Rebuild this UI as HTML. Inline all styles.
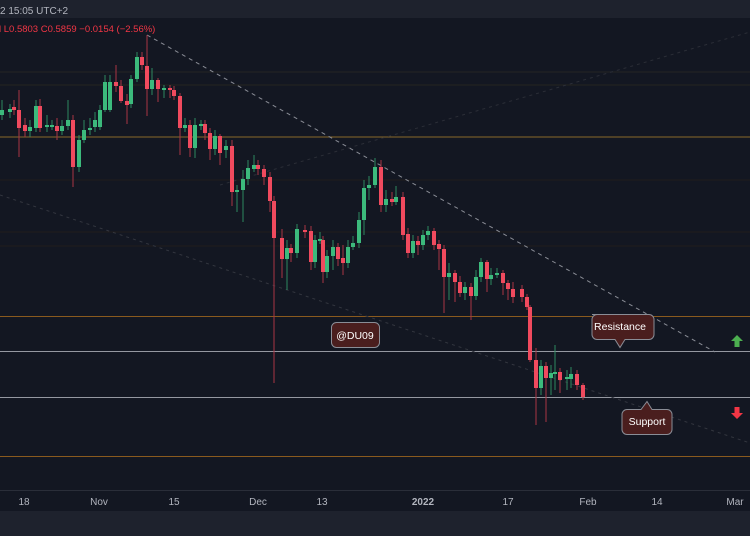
<!DOCTYPE html>
<html><head><meta charset="utf-8">
<style>
html,body{margin:0;padding:0;background:#131722;width:750px;height:536px;overflow:hidden;font-family:"Liberation Sans",sans-serif}
svg{display:block}
</style></head><body>
<svg width="750" height="536" xmlns="http://www.w3.org/2000/svg">
<rect width="750" height="536" fill="#131722"/>
<rect width="750" height="18" fill="#1e222d"/>
<text x="0" y="14" fill="#b2b5be" font-size="10">2 15:05 UTC+2</text>
<text x="-1" y="32" fill="#f23645" font-size="9.5">l  L0.5803  C0.5859  −0.0154 (−2.56%)</text>
<g stroke-width="1">
<line x1="0" y1="72" x2="750" y2="72" stroke="#262624"/>
<line x1="0" y1="85" x2="750" y2="85" stroke="#262420"/>
<line x1="0" y1="137" x2="750" y2="137" stroke="#8a6a2a"/>
<line x1="0" y1="180" x2="750" y2="180" stroke="#221e1c"/>
<line x1="0" y1="232" x2="750" y2="232" stroke="#221e1c"/>
<line x1="0" y1="246" x2="750" y2="246" stroke="#221e1c"/>
<line x1="0" y1="316.5" x2="750" y2="316.5" stroke="#8a5a1e"/>
<line x1="0" y1="351.5" x2="750" y2="351.5" stroke="#9598a1"/>
<line x1="0" y1="397.5" x2="750" y2="397.5" stroke="#9598a1"/>
<line x1="0" y1="456.5" x2="750" y2="456.5" stroke="#8a5a1e"/>
</g>
<line x1="147" y1="35" x2="715" y2="352" stroke="#8a8d96" stroke-dasharray="4,4"/>
<line x1="0" y1="195" x2="750" y2="443" stroke="#33363f" stroke-dasharray="3,4"/>
<line x1="220" y1="185" x2="750" y2="32" stroke="#2b2e37" stroke-dasharray="3,4"/>
<g stroke="#2e8a60" stroke-width="1">
<line x1="2" y1="100" x2="2" y2="120"/><line x1="10" y1="104" x2="10" y2="118"/><line x1="30" y1="120" x2="30" y2="137"/><line x1="36" y1="100" x2="36" y2="132"/><line x1="47" y1="115" x2="47" y2="132"/><line x1="52" y1="120" x2="52" y2="130"/><line x1="62" y1="120" x2="62" y2="135"/><line x1="68" y1="100" x2="68" y2="130"/><line x1="79" y1="135" x2="79" y2="172"/><line x1="84" y1="120" x2="84" y2="143"/><line x1="90" y1="118" x2="90" y2="135"/><line x1="95" y1="112" x2="95" y2="132"/><line x1="100" y1="105" x2="100" y2="130"/><line x1="105" y1="75" x2="105" y2="112"/><line x1="110" y1="75" x2="110" y2="112"/><line x1="131" y1="75" x2="131" y2="108"/><line x1="137" y1="52" x2="137" y2="82"/><line x1="152" y1="68" x2="152" y2="95"/><line x1="164" y1="85" x2="164" y2="98"/><line x1="185" y1="118" x2="185" y2="132"/><line x1="195" y1="118" x2="195" y2="158"/><line x1="201" y1="120" x2="201" y2="130"/><line x1="215" y1="130" x2="215" y2="155"/><line x1="226" y1="140" x2="226" y2="158"/><line x1="237" y1="185" x2="237" y2="212"/><line x1="243" y1="170" x2="243" y2="222"/><line x1="248" y1="160" x2="248" y2="185"/><line x1="254" y1="155" x2="254" y2="172"/><line x1="287" y1="240" x2="287" y2="290"/><line x1="297" y1="224" x2="297" y2="258"/><line x1="315" y1="235" x2="315" y2="268"/><line x1="320" y1="232" x2="320" y2="244"/><line x1="327" y1="250" x2="327" y2="278"/><line x1="333" y1="240" x2="333" y2="270"/><line x1="348" y1="240" x2="348" y2="268"/><line x1="353" y1="236" x2="353" y2="250"/><line x1="359" y1="212" x2="359" y2="248"/><line x1="364" y1="180" x2="364" y2="235"/><line x1="369" y1="176" x2="369" y2="200"/><line x1="375" y1="158" x2="375" y2="188"/><line x1="386" y1="190" x2="386" y2="212"/><line x1="396" y1="186" x2="396" y2="205"/><line x1="413" y1="235" x2="413" y2="258"/><line x1="423" y1="230" x2="423" y2="250"/><line x1="428" y1="226" x2="428" y2="240"/><line x1="449" y1="263" x2="449" y2="300"/><line x1="465" y1="282" x2="465" y2="300"/><line x1="476" y1="270" x2="476" y2="300"/><line x1="481" y1="258" x2="481" y2="282"/><line x1="491" y1="268" x2="491" y2="285"/><line x1="497" y1="268" x2="497" y2="278"/><line x1="541" y1="360" x2="541" y2="395"/><line x1="551" y1="365" x2="551" y2="395"/><line x1="555" y1="345" x2="555" y2="390"/><line x1="567" y1="370" x2="567" y2="390"/><line x1="571" y1="367" x2="571" y2="388"/>
</g>
<g stroke="#a83444" stroke-width="1">
<line x1="14" y1="100" x2="14" y2="115"/><line x1="19" y1="90" x2="19" y2="157"/><line x1="25" y1="118" x2="25" y2="137"/><line x1="40" y1="99" x2="40" y2="132"/><line x1="57" y1="118" x2="57" y2="140"/><line x1="73" y1="115" x2="73" y2="187"/><line x1="116" y1="65" x2="116" y2="92"/><line x1="121" y1="80" x2="121" y2="103"/><line x1="127" y1="94" x2="127" y2="124"/><line x1="142" y1="52" x2="142" y2="70"/><line x1="147" y1="35" x2="147" y2="116"/><line x1="158" y1="78" x2="158" y2="102"/><line x1="170" y1="85" x2="170" y2="98"/><line x1="174" y1="86" x2="174" y2="100"/><line x1="180" y1="93" x2="180" y2="155"/><line x1="190" y1="120" x2="190" y2="157"/><line x1="205" y1="120" x2="205" y2="140"/><line x1="210" y1="128" x2="210" y2="160"/><line x1="220" y1="134" x2="220" y2="165"/><line x1="232" y1="140" x2="232" y2="206"/><line x1="258" y1="160" x2="258" y2="175"/><line x1="264" y1="165" x2="264" y2="185"/><line x1="270" y1="172" x2="270" y2="212"/><line x1="274" y1="196" x2="274" y2="383"/><line x1="282" y1="229" x2="282" y2="278"/><line x1="291" y1="244" x2="291" y2="262"/><line x1="305" y1="225" x2="305" y2="238"/><line x1="311" y1="226" x2="311" y2="270"/><line x1="323" y1="236" x2="323" y2="283"/><line x1="338" y1="243" x2="338" y2="266"/><line x1="343" y1="245" x2="343" y2="275"/><line x1="381" y1="160" x2="381" y2="212"/><line x1="392" y1="192" x2="392" y2="206"/><line x1="403" y1="192" x2="403" y2="240"/><line x1="408" y1="228" x2="408" y2="258"/><line x1="418" y1="236" x2="418" y2="255"/><line x1="434" y1="228" x2="434" y2="250"/><line x1="439" y1="240" x2="439" y2="270"/><line x1="444" y1="245" x2="444" y2="313"/><line x1="455" y1="270" x2="455" y2="302"/><line x1="460" y1="276" x2="460" y2="297"/><line x1="471" y1="283" x2="471" y2="320"/><line x1="487" y1="260" x2="487" y2="292"/><line x1="503" y1="270" x2="503" y2="295"/><line x1="508" y1="280" x2="508" y2="300"/><line x1="513" y1="282" x2="513" y2="303"/><line x1="522" y1="285" x2="522" y2="302"/><line x1="527" y1="294" x2="527" y2="310"/><line x1="530" y1="305" x2="530" y2="362"/><line x1="536" y1="348" x2="536" y2="425"/><line x1="546" y1="362" x2="546" y2="422"/><line x1="560" y1="368" x2="560" y2="393"/><line x1="577" y1="370" x2="577" y2="390"/><line x1="583" y1="383" x2="583" y2="400"/>
</g>
<g fill="#3cba7c">
<rect x="0" y="110" width="4" height="5"/><rect x="8" y="109" width="4" height="3"/><rect x="28" y="127" width="4" height="4"/><rect x="34" y="106" width="4" height="22"/><rect x="45" y="125" width="4" height="2"/><rect x="50" y="125" width="4" height="2"/><rect x="60" y="126" width="4" height="5"/><rect x="66" y="120" width="4" height="6"/><rect x="77" y="140" width="4" height="27"/><rect x="82" y="130" width="4" height="10"/><rect x="88" y="128" width="4" height="2"/><rect x="93" y="120" width="4" height="7"/><rect x="98" y="110" width="4" height="17"/><rect x="103" y="82" width="4" height="28"/><rect x="108" y="82" width="4" height="28"/><rect x="129" y="79" width="4" height="25"/><rect x="135" y="57" width="4" height="22"/><rect x="150" y="80" width="4" height="9"/><rect x="162" y="88" width="4" height="2"/><rect x="183" y="125" width="4" height="3"/><rect x="193" y="125" width="4" height="23"/><rect x="199" y="124" width="4" height="2"/><rect x="213" y="136" width="4" height="13"/><rect x="224" y="146" width="4" height="4"/><rect x="235" y="190" width="4" height="2"/><rect x="241" y="179" width="4" height="11"/><rect x="246" y="168" width="4" height="11"/><rect x="252" y="165" width="4" height="4"/><rect x="285" y="248" width="4" height="11"/><rect x="295" y="229" width="4" height="24"/><rect x="313" y="240" width="4" height="22"/><rect x="318" y="239" width="4" height="2"/><rect x="325" y="256" width="4" height="16"/><rect x="331" y="247" width="4" height="9"/><rect x="346" y="247" width="4" height="16"/><rect x="351" y="243" width="4" height="4"/><rect x="357" y="220" width="4" height="23"/><rect x="362" y="188" width="4" height="32"/><rect x="367" y="185" width="4" height="3"/><rect x="373" y="167" width="4" height="18"/><rect x="384" y="199" width="4" height="6"/><rect x="394" y="197" width="4" height="5"/><rect x="411" y="241" width="4" height="12"/><rect x="421" y="235" width="4" height="10"/><rect x="426" y="231" width="4" height="4"/><rect x="447" y="273" width="4" height="4"/><rect x="463" y="287" width="4" height="6"/><rect x="474" y="277" width="4" height="19"/><rect x="479" y="262" width="4" height="15"/><rect x="489" y="275" width="4" height="4"/><rect x="495" y="273" width="4" height="2"/><rect x="539" y="366" width="4" height="22"/><rect x="549" y="373" width="4" height="5"/><rect x="553" y="372" width="4" height="2"/><rect x="565" y="377" width="4" height="2"/><rect x="569" y="374" width="4" height="5"/>
</g>
<g fill="#f04a5e">
<rect x="12" y="107" width="4" height="3"/><rect x="17" y="110" width="4" height="18"/><rect x="23" y="125" width="4" height="6"/><rect x="38" y="106" width="4" height="22"/><rect x="55" y="126" width="4" height="5"/><rect x="71" y="120" width="4" height="47"/><rect x="114" y="82" width="4" height="4"/><rect x="119" y="86" width="4" height="15"/><rect x="125" y="101" width="4" height="4"/><rect x="140" y="57" width="4" height="8"/><rect x="145" y="66" width="4" height="23"/><rect x="156" y="80" width="4" height="9"/><rect x="168" y="88" width="4" height="2"/><rect x="172" y="90" width="4" height="6"/><rect x="178" y="96" width="4" height="32"/><rect x="188" y="125" width="4" height="23"/><rect x="203" y="124" width="4" height="9"/><rect x="208" y="133" width="4" height="16"/><rect x="218" y="136" width="4" height="17"/><rect x="230" y="146" width="4" height="46"/><rect x="256" y="165" width="4" height="4"/><rect x="262" y="169" width="4" height="8"/><rect x="268" y="177" width="4" height="24"/><rect x="272" y="201" width="4" height="37"/><rect x="280" y="238" width="4" height="21"/><rect x="289" y="248" width="4" height="5"/><rect x="303" y="230" width="4" height="2"/><rect x="309" y="231" width="4" height="31"/><rect x="321" y="240" width="4" height="32"/><rect x="336" y="247" width="4" height="12"/><rect x="341" y="258" width="4" height="5"/><rect x="379" y="167" width="4" height="38"/><rect x="390" y="199" width="4" height="3"/><rect x="401" y="197" width="4" height="38"/><rect x="406" y="234" width="4" height="19"/><rect x="416" y="241" width="4" height="4"/><rect x="432" y="231" width="4" height="14"/><rect x="437" y="244" width="4" height="5"/><rect x="442" y="249" width="4" height="28"/><rect x="453" y="273" width="4" height="9"/><rect x="458" y="282" width="4" height="11"/><rect x="469" y="287" width="4" height="9"/><rect x="485" y="262" width="4" height="17"/><rect x="501" y="273" width="4" height="10"/><rect x="506" y="283" width="4" height="6"/><rect x="511" y="289" width="4" height="8"/><rect x="520" y="289" width="4" height="8"/><rect x="525" y="297" width="4" height="10"/><rect x="528" y="307" width="4" height="53"/><rect x="534" y="360" width="4" height="28"/><rect x="544" y="366" width="4" height="12"/><rect x="558" y="372" width="4" height="8"/><rect x="575" y="374" width="4" height="11"/><rect x="581" y="385" width="4" height="12"/>
</g>
<line x1="0" y1="490.5" x2="750" y2="490.5" stroke="#2a2e39"/>
<rect x="0" y="511" width="750" height="25" fill="#1e222d"/>
<g fill="#b2b5be" font-size="10" text-anchor="middle">
<text x="24" y="505">18</text><text x="99" y="505">Nov</text><text x="174" y="505">15</text>
<text x="258" y="505">Dec</text><text x="322" y="505">13</text><text x="423" y="505" font-weight="bold">2022</text>
<text x="508" y="505">17</text><text x="588" y="505">Feb</text><text x="657" y="505">14</text><text x="735" y="505">Mar</text>
</g>
<g stroke="#8a8d96" stroke-width="1" fill="#4a1e1e">
<rect x="331.5" y="322.5" width="48" height="25" rx="5"/>
<path d="M592,314.5 h57 a5,5 0 0 1 5,5 v15 a5,5 0 0 1 -5,5 h-24 l-5,8 l-5,-8 h-18 a5,5 0 0 1 -5,-5 v-15 a5,5 0 0 1 5,-5z"/>
<path d="M627,409.5 h14 l6,-8 l5,8 h15 a5,5 0 0 1 5,5 v15 a5,5 0 0 1 -5,5 h-40 a5,5 0 0 1 -5,-5 v-15 a5,5 0 0 1 5,-5z"/>
</g>
<g fill="#ffffff" font-size="10.5" text-anchor="middle">
<text x="355" y="339">@DU09</text>
<text x="620" y="330">Resistance</text>
<text x="647" y="425">Support</text>
</g>
<path d="M737,335 l6,6 h-3.5 v6 h-5 v-6 h-3.5z" fill="#4caf50"/>
<path d="M737,419 l6,-6 h-3.5 v-6 h-5 v6 h-3.5z" fill="#f23645"/>
</svg>
</body></html>
